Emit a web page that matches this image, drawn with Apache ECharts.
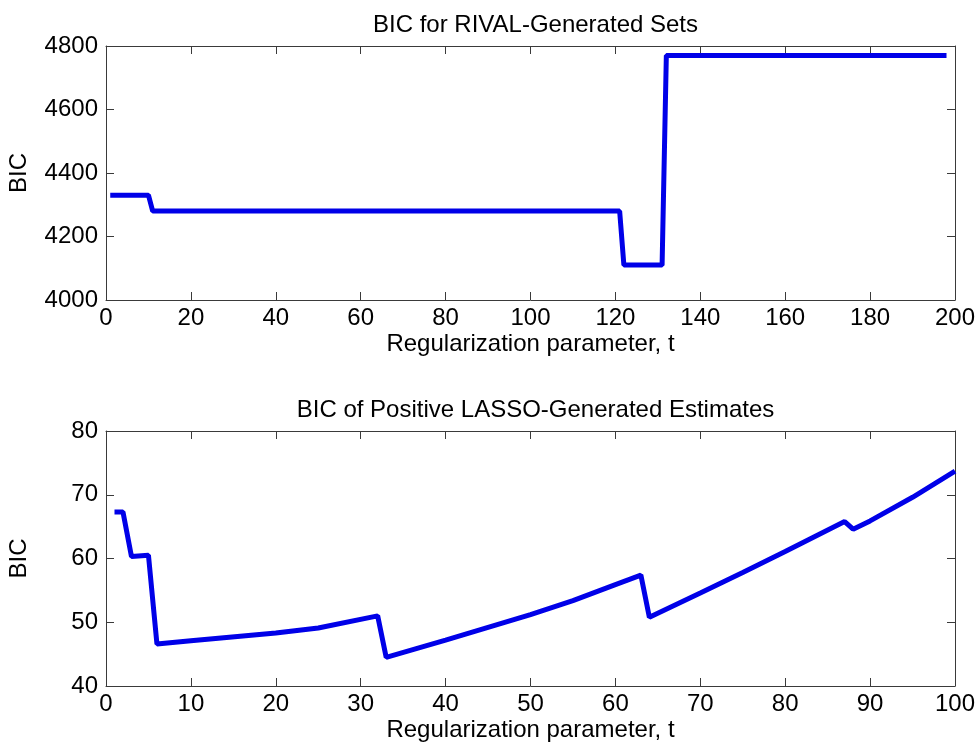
<!DOCTYPE html>
<html>
<head>
<meta charset="utf-8">
<script src="https://cdn.jsdelivr.net/npm/echarts@6/dist/echarts.min.js"></script>
<style>
html,body{margin:0;padding:0;background:#fff;}
#chart{width:979px;height:747px;}
</style>
</head>
<body>
<div id="chart"></div>
<script>
// ---- Data ----
const topTitle = 'BIC for RIVAL-Generated Sets';
const bottomTitle = 'BIC of Positive LASSO-Generated Estimates';
const xName = 'Regularization parameter, t';
const yName = 'BIC';

const topT   = [1, 10, 11, 121, 122, 131, 132, 198];
const topBIC = [4330, 4330, 4280, 4280, 4110, 4110, 4770, 4770];

const botT   = [1, 2, 3, 5, 6, 10, 20, 25, 32, 33, 40, 50, 55, 60, 63, 64, 70, 75, 80, 87, 88, 90, 95, 100];
const botBIC = [67.3, 67.3, 60.3, 60.5, 46.6, 47.1, 48.3, 49.1, 51.0, 44.5, 47.2, 51.2, 53.4, 55.9, 57.4, 50.8, 54.6, 57.8, 61.1, 65.8, 64.6, 65.9, 69.6, 73.7];

const topX = {min: 0, max: 200, interval: 20};
const topY = {min: 4000, max: 4800, interval: 200};
const botX = {min: 0, max: 100, interval: 10};
const botY = {min: 40, max: 80, interval: 10};

// ---- Styles ----
const FONT = '"Liberation Sans", Arial, Helvetica, sans-serif';
const AX = '#3a3a3a';
const LINE = '#0000e8';
const FS = 24;
const plain = v => String(v);

function xPair(grid, sc) {
  const base = {
    type: 'value', gridIndex: grid, min: sc.min, max: sc.max, interval: sc.interval,
    splitLine: {show: false},
    axisLine: {show: true, onZero: false, lineStyle: {color: AX, width: 1}},
    axisTick: {show: true, inside: true, length: 8, lineStyle: {color: AX, width: 1}}
  };
  return [
    Object.assign({}, base, {
      position: 'bottom',
      axisLabel: {show: true, margin: 6, fontSize: FS, color: '#000', fontFamily: FONT, formatter: plain},
      name: xName, nameLocation: 'middle', nameGap: 32,
      nameTextStyle: {fontSize: FS, color: '#000', fontFamily: FONT}
    }),
    Object.assign({}, base, {position: 'top', axisLabel: {show: false}})
  ];
}
function yPair(grid, sc) {
  const base = {
    type: 'value', gridIndex: grid, min: sc.min, max: sc.max, interval: sc.interval,
    splitLine: {show: false},
    axisLine: {show: true, onZero: false, lineStyle: {color: AX, width: 1}},
    axisTick: {show: true, inside: true, length: 8, lineStyle: {color: AX, width: 1}}
  };
  return [
    Object.assign({}, base, {
      position: 'left',
      axisLabel: {show: true, margin: 8, fontSize: FS, color: '#000', fontFamily: FONT, formatter: plain},
      name: yName, nameLocation: 'middle', nameGap: 75, nameRotate: 90,
      nameTextStyle: {fontSize: FS, color: '#000', fontFamily: FONT}
    }),
    Object.assign({}, base, {position: 'right', axisLabel: {show: false}})
  ];
}

const chart = echarts.init(document.getElementById('chart'), null, {renderer: 'canvas'});
chart.setOption({
  animation: false,
  backgroundColor: '#ffffff',
  title: [
    {text: topTitle, left: 530.5, top: 8, textAlign: 'center',
     textStyle: {fontSize: FS, fontWeight: 'normal', color: '#000', fontFamily: FONT}},
    {text: bottomTitle, left: 530.5, top: 393, textAlign: 'center',
     textStyle: {fontSize: FS, fontWeight: 'normal', color: '#000', fontFamily: FONT}}
  ],
  grid: [
    {left: 106, right: 24, top: 46, height: 254, outerBoundsMode: 'none', containLabel: false},
    {left: 106, right: 24, top: 431, height: 255, outerBoundsMode: 'none', containLabel: false}
  ],
  xAxis: [].concat(xPair(0, topX), xPair(1, botX)),
  yAxis: [].concat(yPair(0, topY), yPair(1, botY)),
  series: [
    {type: 'line', xAxisIndex: 0, yAxisIndex: 0, showSymbol: false,
     data: topT.map((t, i) => [t, topBIC[i]]),
     lineStyle: {color: LINE, width: 5}, itemStyle: {color: LINE}},
    {type: 'line', xAxisIndex: 2, yAxisIndex: 2, showSymbol: false,
     data: botT.map((t, i) => [t, botBIC[i]]),
     lineStyle: {color: LINE, width: 5}, itemStyle: {color: LINE}}
  ]
});
</script>
</body>
</html>
